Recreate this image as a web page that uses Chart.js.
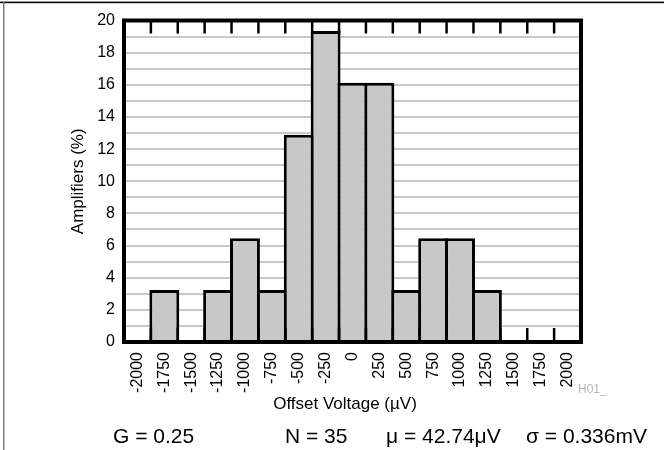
<!DOCTYPE html>
<html>
<head>
<meta charset="utf-8">
<script src="https://cdn.jsdelivr.net/npm/chart.js@4.4.1/dist/chart.umd.min.js"></script>
<style>
  html, body { margin: 0; padding: 0; background: #fff; }
  #wrap { width: 665px; height: 450px; position: relative; }
</style>
</head>
<body>
<div id="wrap"><canvas id="c" width="665" height="450"></canvas></div>
<script>
// ---- data ----
const categories = ['-2000','-1750','-1500','-1250','-1000','-750','-500','-250','0','250','500','750','1000','1250','1500','1750','2000'];
const amplifiersPct = [0, 3.23, 0, 3.23, 6.45, 3.23, 12.90, 19.35, 16.13, 16.13, 3.23, 6.45, 6.45, 3.23, 0, 0, 0];
const yTickLabels = ['0','2','4','6','8','10','12','14','16','18','20'];
const xTitle = 'Offset Voltage (µV)';
const yTitle = 'Amplifiers (%)';
const footerTexts = ['G = 0.25', 'N = 35', 'μ = 42.74μV', 'σ = 0.336mV'];
const noteText = 'H01_';

const FONT = "'Liberation Sans', Arial, Helvetica, sans-serif";

const decor = {
  id: 'decor',
  afterDraw(chart) {
    const { ctx, chartArea: a, scales: { x } } = chart;
    ctx.save();
    // outer frame lines
    ctx.fillStyle = '#000';
    ctx.fillRect(0, 1.6, 664, 1.6);
    ctx.fillStyle = '#777';
    ctx.fillRect(3, 2, 1.4, 448);
    // inward tick marks at bin boundaries
    ctx.strokeStyle = '#000';
    ctx.lineWidth = 2.5;
    for (let i = 1; i < categories.length; i++) {
      const bx = (x.getPixelForValue(i - 1) + x.getPixelForValue(i)) / 2;
      ctx.beginPath();
      ctx.moveTo(bx, a.top); ctx.lineTo(bx, a.top + 13);
      ctx.moveTo(bx, a.bottom); ctx.lineTo(bx, a.bottom - 14);
      ctx.stroke();
    }
    // plot border
    ctx.lineWidth = 4;
    ctx.strokeRect(a.left, a.top, a.right - a.left, a.bottom - a.top);
    // x axis title
    ctx.fillStyle = '#000';
    ctx.font = '17px ' + FONT;
    ctx.textAlign = 'center';
    ctx.textBaseline = 'middle';
    ctx.fillText(xTitle, 345, 404);
    // note
    ctx.fillStyle = '#b4b4b4';
    ctx.font = '12px ' + FONT;
    ctx.textBaseline = 'alphabetic';
    ctx.textAlign = 'left';
    ctx.fillText(noteText, 578, 393);
    // footer
    ctx.fillStyle = '#000';
    ctx.font = '21px ' + FONT;
    const fx = [113, 285, 386, 526];
    footerTexts.forEach((t, i) => ctx.fillText(t, fx[i], 443));
    ctx.restore();
  }
};

new Chart(document.getElementById('c'), {
  type: 'bar',
  data: {
    labels: categories,
    datasets: [{
      data: amplifiersPct,
      backgroundColor: '#c8c8c8',
      borderColor: '#000',
      borderWidth: 3,
      barPercentage: 1.112,
      categoryPercentage: 1.0
    }]
  },
  options: {
    responsive: false,
    animation: false,
    devicePixelRatio: 1,
    layout: { padding: { left: 0, top: 20.5, right: 84, bottom: 0 } },
    plugins: { legend: { display: false }, tooltip: { enabled: false }, title: { display: false } },
    scales: {
      x: {
        type: 'category',
        offset: true,
        grid: { display: false, drawTicks: false },
        border: { display: false },
        ticks: {
          autoSkip: false, minRotation: 90, maxRotation: 90, padding: 10,
          color: '#000', font: { family: FONT, size: 16 }
        },
        title: { display: false },
        afterFit(s) { s.height = 108; }
      },
      y: {
        min: 0, max: 20,
        grid: { color: '#c8c8c8', lineWidth: 2, drawTicks: false },
        border: { display: false },
        ticks: {
          stepSize: 1, autoSkip: false, padding: 9, color: '#000', font: { family: FONT, size: 16 },
          callback: (v) => yTickLabels.includes(String(v)) ? String(v) : ''
        },
        title: {
          display: true, text: yTitle, color: '#000',
          font: { family: FONT, size: 17 }, padding: { top: 67.8, bottom: 0 }
        },
        afterFit(s) { s.width = 124; }
      }
    }
  },
  plugins: [decor]
});
</script>
</body>
</html>
